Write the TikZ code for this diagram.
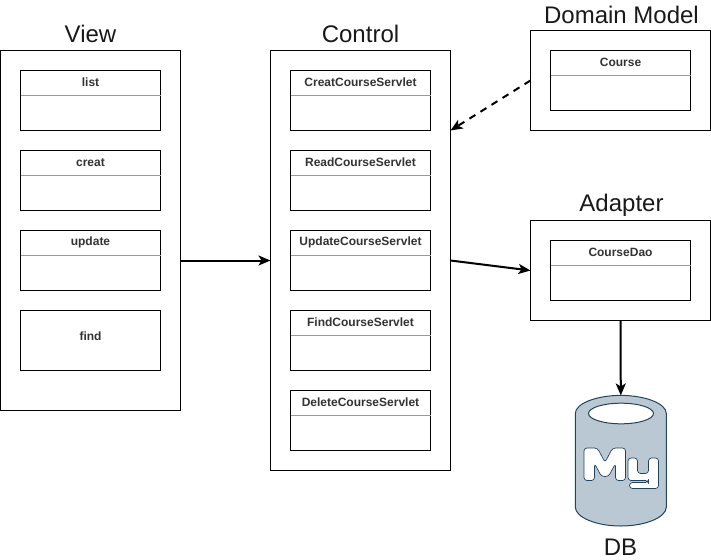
\documentclass[tikz,border=0pt]{standalone}
\usepackage{fontspec}
\setmainfont{Liberation Sans}
\usetikzlibrary{arrows.meta}
\definecolor{dbfill}{HTML}{BAC8D3}
\definecolor{dbline}{HTML}{23445D}
\tikzset{
  outerbox/.style={draw=black,line width=1pt,fill=white,minimum width=180pt,inner sep=0pt,outer sep=0pt},
  innerbox/.style={draw=black,line width=1pt,fill=white,minimum width=140pt,minimum height=60pt,inner sep=0pt,outer sep=0pt},
  headline/.style={draw=black!40,line width=1pt},
  title/.style={font=\fontsize{24}{24}\selectfont,inner sep=0pt,text=black!90},
  itemlabel/.style={font=\fontsize{12}{12}\selectfont\bfseries,inner sep=0pt,text=black!80},
  link/.style={draw=black,line width=2pt,-{Stealth[length=12pt,width=10pt,inset=3pt]}},
  dblink/.style={link,dash pattern=on 7pt off 6pt},
  dbbody/.style={draw=dbline,line width=1pt,fill=dbfill},
  logo/.style={draw=dbline,line width=.7pt,fill=white,line join=round,rounded corners=3pt}
}
% name, centre x, top y, text, with header line
\newcommand{\itembox}[4]{%
  \node[innerbox] (#1) at (#2,#3+30) {};
  \draw[headline] (#1.west |- 0,#3+25) -- (#1.east |- 0,#3+25);
  \node[itemlabel] (#1t) at (#2,#3+12) {#4};
}
\begin{document}
\begin{tikzpicture}[x=1pt,y=-1pt]
\useasboundingbox (0,0) rectangle (711,559);
\begin{scope}[shift={(0.5,0.5)}]
% outer containers
\node[outerbox,minimum height=360pt] (view) at (90,230) {};
\node[outerbox,minimum height=420pt] (control) at (360,260) {};
\node[outerbox,minimum height=100pt] (domain) at (620,80) {};
\node[outerbox,minimum height=100pt] (adapter) at (620,270) {};
% titles
\node[title] (viewt) at (90,33) {View};
\node[title] (controlt) at (360,33) {Control};
\node[title] (domaint) at (621,14) {Domain Model};
\node[title] (adaptert) at (621,204.5) {Adapter};
\node[title] (dbt) at (620,546.5) {DB};
% view items
\itembox{vlist}{90}{70}{list}
\itembox{vcreat}{90}{150}{creat}
\itembox{vupdate}{90}{230}{update}
\node[innerbox] (vfind) at (90,340) {};
\node[itemlabel] (vfindt) at (90,335.5) {find};
% control items
\itembox{ccreat}{360}{70}{CreatCourseServlet}
\itembox{cread}{360}{150}{ReadCourseServlet}
\itembox{cupdate}{360}{230}{UpdateCourseServlet}
\itembox{cfind}{360}{310}{FindCourseServlet}
\itembox{cdelete}{360}{390}{DeleteCourseServlet}
% domain and adapter items
\itembox{course}{620}{50}{Course}
\itembox{dao}{620}{240}{CourseDao}
% database
\node[minimum width=91pt,minimum height=130.5pt,inner sep=0pt,outer sep=0pt] (db) at (620.3,460.2) {};
\draw[dbbody] (574.8,413) .. controls (574.8,403) and (596,394.9) .. (620.3,394.9)
  .. controls (644.6,394.9) and (665.8,403) .. (665.8,413)
  -- (665.8,506.5) .. controls (665.8,517) and (644.6,525.5) .. (620.3,525.5)
  .. controls (596,525.5) and (574.8,517) .. (574.8,506.5) -- cycle;
\draw[draw=dbline,line width=1pt,fill=white] (620.5,413) ellipse [x radius=32.5,y radius=10.3];
% logo M
\draw[logo] (583.5,480) -- (583.5,447.5) -- (597,447.5) -- (604.5,462) -- (612,447.5) -- (625,447.5)
  -- (625,480) -- (615,480) -- (615,463) -- (608,476) -- (601,476) -- (594,463) -- (594,480) -- cycle;
% logo y
\draw[logo] (627.5,457.5) -- (637,457.5) -- (637,473) -- (648,473) -- (648,457.5) -- (658,457.5)
  -- (658,488) -- (629,488) -- (629,482) -- (648,482) -- (648,480) -- (627.5,480) -- cycle;
% connectors
\draw[link] (view.east |- control.west) -- (control.west);
\draw[link] (control.east) -- (adapter.west);
\draw[dblink] (domain.west) -- (control.east |- domain.south);
\draw[link] (adapter.south) -- (db.north);
\end{scope}
\end{tikzpicture}
\end{document}
